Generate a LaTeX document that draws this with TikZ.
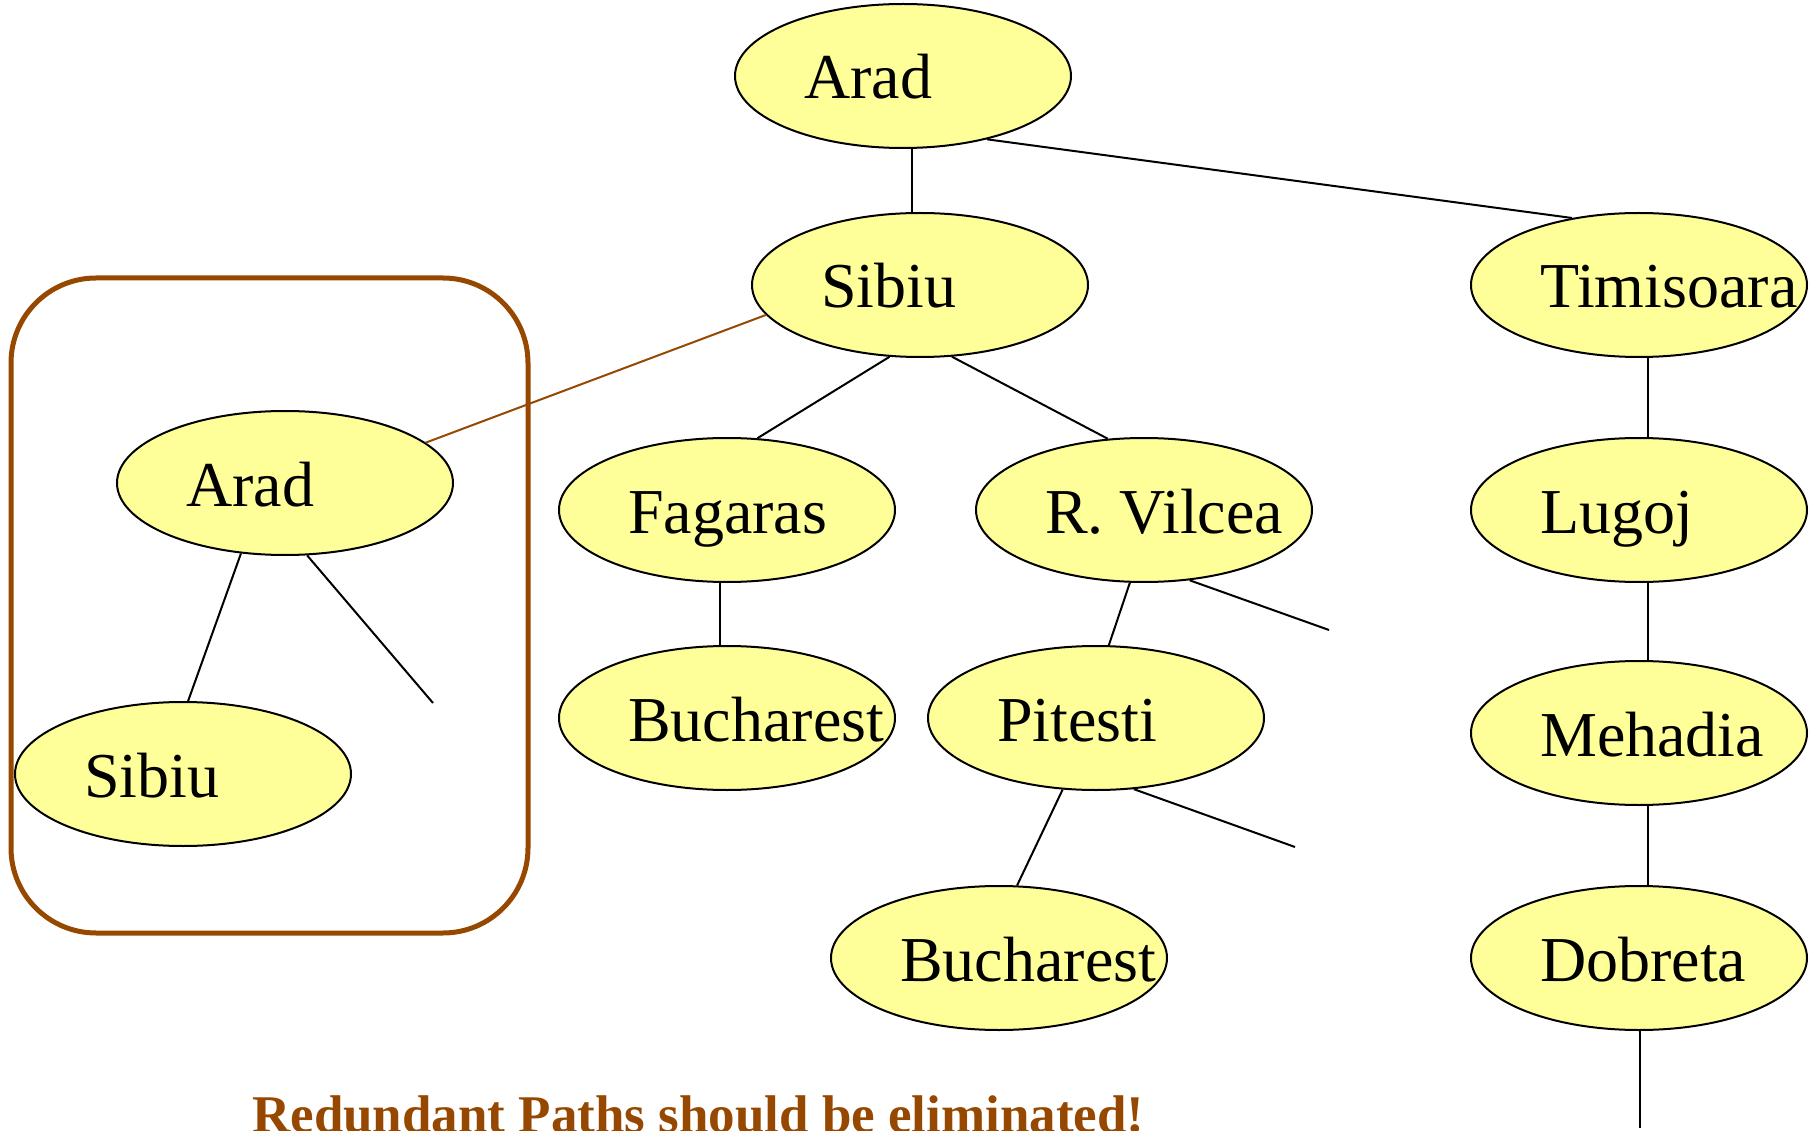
\documentclass[tikz,border=0pt]{standalone}
\usepackage{fontspec}
\setmainfont{Liberation Serif}
\usetikzlibrary{shapes.geometric}
\definecolor{cityfill}{RGB}{255,255,153}
\definecolor{warnbrown}{RGB}{150,72,0}
\tikzset{
  cityell/.style={ellipse, draw=black, line width=2pt, fill=cityfill,
    minimum width=336pt, minimum height=144pt, inner sep=0pt},
  citytxt/.style={anchor=base west, inner sep=0pt, font=\fontsize{64}{64}\selectfont},
  link/.style={draw=black, line width=2pt},
  brownlink/.style={draw=warnbrown, line width=2pt},
  groupbox/.style={rectangle, draw=warnbrown, line width=5pt, rounded corners=85pt,
    minimum width=517pt, minimum height=655pt, inner sep=0pt},
  notetxt/.style={anchor=base west, inner sep=0pt, text=warnbrown,
    font=\bfseries\fontsize{53}{53}\selectfont}
}
\newcommand\mkcity[3]{%
  \node[cityell] (#1) at (#2) {};
  \node[citytxt] (#1-t) at ([xshift=70pt,yshift=-23pt]#1.west) {#3};}
\begin{document}
\begin{tikzpicture}[x=1pt,y=-1pt]
\useasboundingbox (0,0) rectangle (1816,1131);
\node[groupbox] (box) at (269.5,605.5) {};
\mkcity{arad1}{903,76}{Arad}
\mkcity{sibiu1}{920,285}{Sibiu}
\mkcity{timis}{1639,285}{Timisoara}
\mkcity{arad2}{285,483}{Arad}
\mkcity{fag}{727,510}{Fagaras}
\mkcity{vil}{1144,510}{R. Vilcea}
\mkcity{lugoj}{1639,510}{Lugoj}
\mkcity{sibiu2}{183,774}{Sibiu}
\mkcity{buch1}{727,718}{Bucharest}
\mkcity{pit}{1096,718}{Pitesti}
\mkcity{meh}{1639,733}{Mehadia}
\mkcity{buch2}{999,958}{Bucharest}
\mkcity{dob}{1639,958}{Dobreta}
\coordinate (vilend) at (1329,630);
\coordinate (pitend) at (1295,847);
\coordinate (arad2end) at (433,703);
\coordinate (dobend) at (1640,1128);
\draw[link] ([xshift=9pt]arad1.south) -- ([xshift=-8pt]sibiu1.north);
\draw[link] (arad1.-37) -- (timis.135);
\draw[brownlink] (sibiu1.-169) -- (arad2.16);
\draw[link] (sibiu1.-113) -- (fag.67);
\draw[link] (sibiu1.-66) -- (vil.117);
\draw[link] ([xshift=9pt]timis.south) -- ([xshift=9pt]lugoj.north);
\draw[link] ([xshift=9pt]lugoj.south) -- ([xshift=9pt]meh.north);
\draw[link] ([xshift=9pt]meh.south) -- ([xshift=9pt]dob.north);
\draw[link] ([xshift=1pt]dob.south) -- (dobend);
\draw[link] ([xshift=-7pt]fag.south) -- ([xshift=-7pt]buch1.north);
\draw[link] (vil.-101) -- (pit.80);
\draw[link] (vil.-57) -- (vilend);
\draw[link] (pit.-115) -- (buch2.76.5);
\draw[link] (pit.-62) -- (pitend);
\draw[link] (arad2.-122) -- (sibiu2.86);
\draw[link] (arad2.-73.5) -- (arad2end);
\node[notetxt] (note) at (252,1132) {Redundant Paths should be eliminated!};
\end{tikzpicture}
\end{document}
